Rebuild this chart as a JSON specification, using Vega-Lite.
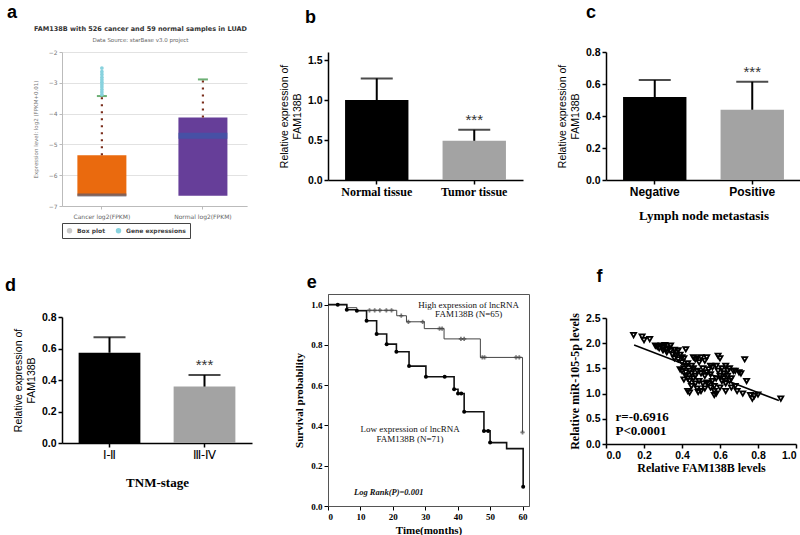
{
"$schema": "https://vega.github.io/schema/vega-lite/v6.json",
"padding": {"left": 5, "top": 3, "right": 0, "bottom": 0},
"background": "white",
"config": {
  "view": {"stroke": null},
  "axis": {"grid": false, "domainColor": "#000", "tickColor": "#000", "labelColor": "#000", "titleColor": "#000", "labelOverlap": false}
},
"datasets": {
  "boxA": [
    {"group": "Cancer log2(FPKM)", "lo": -6.67, "q3": -5.35, "med": -6.64, "whi": -3.43},
    {"group": "Normal log2(FPKM)", "lo": -6.67, "q3": -4.13, "med": -4.72, "whi": -2.89}
  ],
  "outA": [
    {"group": "Cancer log2(FPKM)", "value": -3.38, "kind": "Gene expressions"},
    {"group": "Cancer log2(FPKM)", "value": -3.3, "kind": "Gene expressions"},
    {"group": "Cancer log2(FPKM)", "value": -3.22, "kind": "Gene expressions"},
    {"group": "Cancer log2(FPKM)", "value": -3.14, "kind": "Gene expressions"},
    {"group": "Cancer log2(FPKM)", "value": -3.06, "kind": "Gene expressions"},
    {"group": "Cancer log2(FPKM)", "value": -2.98, "kind": "Gene expressions"},
    {"group": "Cancer log2(FPKM)", "value": -2.9, "kind": "Gene expressions"},
    {"group": "Cancer log2(FPKM)", "value": -2.82, "kind": "Gene expressions"},
    {"group": "Cancer log2(FPKM)", "value": -2.73, "kind": "Gene expressions"},
    {"group": "Cancer log2(FPKM)", "value": -2.64, "kind": "Gene expressions"},
    {"group": "Cancer log2(FPKM)", "value": -2.52, "kind": "Gene expressions"}
  ],
  "barsB": [
    {"cat": "Normal tissue", "mean": 1.0, "err": 1.27, "sig": ""},
    {"cat": "Tumor tissue", "mean": 0.49, "err": 0.627, "sig": "***"}
  ],
  "barsC": [
    {"cat": "Negative", "mean": 0.518, "err": 0.625, "sig": ""},
    {"cat": "Positive", "mean": 0.439, "err": 0.614, "sig": "***"}
  ],
  "barsD": [
    {"cat": "Ⅰ-Ⅱ", "mean": 0.573, "err": 0.672, "sig": ""},
    {"cat": "Ⅲ-Ⅳ", "mean": 0.358, "err": 0.432, "sig": "***"}
  ],
  "kmHigh": [
    {"t": 0, "s": 1.0}, {"t": 5.8, "s": 0.985}, {"t": 8.9, "s": 0.972}, {"t": 21.2, "s": 0.945},
    {"t": 24.2, "s": 0.915}, {"t": 29.7, "s": 0.881}, {"t": 35.8, "s": 0.83}, {"t": 47.0, "s": 0.738},
    {"t": 60.0, "s": 0.366}
  ],
  "kmHighMarks": [
    {"t": 12.8, "s": 0.972}, {"t": 14.4, "s": 0.972}, {"t": 16.0, "s": 0.972}, {"t": 18.0, "s": 0.972},
    {"t": 19.6, "s": 0.972}, {"t": 22.6, "s": 0.945}, {"t": 24.8, "s": 0.915}, {"t": 29.2, "s": 0.915},
    {"t": 34.4, "s": 0.881}, {"t": 35.2, "s": 0.881}, {"t": 41.0, "s": 0.83}, {"t": 42.0, "s": 0.83},
    {"t": 47.6, "s": 0.738}, {"t": 48.3, "s": 0.738}, {"t": 58.0, "s": 0.738}, {"t": 59.0, "s": 0.738},
    {"t": 60.0, "s": 0.366}
  ],
  "kmLow": [
    {"t": 0, "s": 1.0}, {"t": 5.8, "s": 0.975}, {"t": 8.9, "s": 0.97}, {"t": 11.9, "s": 0.92},
    {"t": 15.0, "s": 0.854}, {"t": 18.1, "s": 0.804}, {"t": 21.1, "s": 0.766}, {"t": 25.0, "s": 0.695},
    {"t": 30.2, "s": 0.642}, {"t": 38.9, "s": 0.58}, {"t": 40.1, "s": 0.559}, {"t": 42.0, "s": 0.468},
    {"t": 48.1, "s": 0.373}, {"t": 50.0, "s": 0.315}, {"t": 55.1, "s": 0.285}, {"t": 60.2, "s": 0.095}
  ],
  "kmLowMarks": [
    {"t": 3.0, "s": 1.0}, {"t": 5.8, "s": 0.975}, {"t": 8.9, "s": 0.97}, {"t": 11.9, "s": 0.92},
    {"t": 15.0, "s": 0.854}, {"t": 18.1, "s": 0.804}, {"t": 21.1, "s": 0.766}, {"t": 25.0, "s": 0.695},
    {"t": 30.2, "s": 0.642}, {"t": 36.0, "s": 0.642}, {"t": 38.9, "s": 0.58}, {"t": 40.1, "s": 0.559},
    {"t": 41.1, "s": 0.559}, {"t": 42.0, "s": 0.468}, {"t": 48.1, "s": 0.373}, {"t": 49.4, "s": 0.373},
    {"t": 50.0, "s": 0.315}, {"t": 60.2, "s": 0.095}
  ],
  "scatterF": [
    {"x": 0.145, "y": 2.16}, {"x": 0.19, "y": 2.13}, {"x": 0.2, "y": 2.06}, {"x": 0.23, "y": 2.08},
    {"x": 0.26, "y": 1.95}, {"x": 0.27, "y": 1.93}, {"x": 0.28, "y": 1.9}, {"x": 0.29, "y": 1.95},
    {"x": 0.3, "y": 1.92}, {"x": 0.3, "y": 1.86}, {"x": 0.31, "y": 1.96}, {"x": 0.32, "y": 1.88},
    {"x": 0.32, "y": 1.82}, {"x": 0.33, "y": 1.9}, {"x": 0.34, "y": 1.95}, {"x": 0.34, "y": 1.85},
    {"x": 0.35, "y": 1.78}, {"x": 0.36, "y": 1.87}, {"x": 0.36, "y": 1.7}, {"x": 0.37, "y": 1.82},
    {"x": 0.37, "y": 1.75}, {"x": 0.38, "y": 1.86}, {"x": 0.38, "y": 1.68}, {"x": 0.39, "y": 1.77},
    {"x": 0.4, "y": 1.72}, {"x": 0.4, "y": 1.62}, {"x": 0.41, "y": 1.7}, {"x": 0.42, "y": 1.88},
    {"x": 0.4, "y": 1.45}, {"x": 0.41, "y": 1.5}, {"x": 0.42, "y": 1.55}, {"x": 0.42, "y": 1.35},
    {"x": 0.43, "y": 1.6}, {"x": 0.43, "y": 1.3}, {"x": 0.43, "y": 1.05}, {"x": 0.44, "y": 1.02},
    {"x": 0.44, "y": 1.45}, {"x": 0.44, "y": 1.25}, {"x": 0.45, "y": 1.55}, {"x": 0.45, "y": 1.4},
    {"x": 0.45, "y": 1.15}, {"x": 0.46, "y": 1.72}, {"x": 0.46, "y": 1.5}, {"x": 0.46, "y": 1.3},
    {"x": 0.47, "y": 1.68}, {"x": 0.47, "y": 1.35}, {"x": 0.47, "y": 1.2}, {"x": 0.48, "y": 1.7},
    {"x": 0.48, "y": 1.45}, {"x": 0.48, "y": 1.1}, {"x": 0.49, "y": 1.62}, {"x": 0.49, "y": 1.25},
    {"x": 0.5, "y": 1.72}, {"x": 0.5, "y": 1.4}, {"x": 0.5, "y": 1.05}, {"x": 0.51, "y": 1.5},
    {"x": 0.51, "y": 1.2}, {"x": 0.52, "y": 1.65}, {"x": 0.52, "y": 1.35}, {"x": 0.53, "y": 1.42},
    {"x": 0.53, "y": 1.22}, {"x": 0.54, "y": 1.48}, {"x": 0.54, "y": 1.2}, {"x": 0.55, "y": 1.38},
    {"x": 0.55, "y": 1.55}, {"x": 0.56, "y": 1.25}, {"x": 0.56, "y": 1.52}, {"x": 0.57, "y": 1.15},
    {"x": 0.57, "y": 1.05}, {"x": 0.57, "y": 0.97}, {"x": 0.58, "y": 1.55}, {"x": 0.58, "y": 1.3},
    {"x": 0.59, "y": 1.45}, {"x": 0.59, "y": 1.75}, {"x": 0.6, "y": 1.7}, {"x": 0.6, "y": 1.35},
    {"x": 0.6, "y": 1.12}, {"x": 0.61, "y": 1.5}, {"x": 0.61, "y": 1.25}, {"x": 0.62, "y": 1.4},
    {"x": 0.62, "y": 1.3}, {"x": 0.63, "y": 1.55}, {"x": 0.63, "y": 1.2}, {"x": 0.63, "y": 1.05},
    {"x": 0.64, "y": 1.45}, {"x": 0.64, "y": 1.35}, {"x": 0.65, "y": 1.5}, {"x": 0.65, "y": 1.25},
    {"x": 0.66, "y": 1.3}, {"x": 0.66, "y": 1.12}, {"x": 0.67, "y": 1.45}, {"x": 0.68, "y": 1.15},
    {"x": 0.68, "y": 1.45}, {"x": 0.69, "y": 1.05}, {"x": 0.7, "y": 1.42}, {"x": 0.71, "y": 1.4},
    {"x": 0.72, "y": 1.0}, {"x": 0.73, "y": 1.68}, {"x": 0.74, "y": 1.25}, {"x": 0.76, "y": 0.97},
    {"x": 0.77, "y": 0.9}, {"x": 0.78, "y": 0.95}, {"x": 0.8, "y": 0.98}, {"x": 0.92, "y": 0.9},
    {"x": 0.39, "y": 1.48}, {"x": 0.41, "y": 1.28}, {"x": 0.42, "y": 1.42}, {"x": 0.53, "y": 1.72},
    {"x": 0.55, "y": 1.12}, {"x": 0.52, "y": 1.1}, {"x": 0.58, "y": 1.0}, {"x": 0.485, "y": 1.03}
  ],
  "lineF": [{"x": 0.148, "y": 1.963}, {"x": 0.91, "y": 0.862}]
},
"hconcat": [
 {"vconcat": [
  {
   "title": {"text": "a", "anchor": "start", "frame": "group", "font": "Liberation Sans", "fontSize": 18, "fontWeight": "bold", "dx": -55, "offset": 4},
   "width": 185, "height": 154,
   "resolve": {"scale": {"color": "independent"}},
   "layer": [
    {"data": {"name": "boxA"}, "mark": {"type": "bar"},
     "encoding": {
      "x": {"field": "group", "type": "nominal", "scale": {"paddingInner": 0.515, "paddingOuter": 0.173, "align": 0.44},
            "axis": {"title": null, "labelAngle": 0, "labelFont": "DejaVu Sans", "labelFontSize": 6, "labelColor": "#666", "domainColor": "#bbb", "tickColor": "#bbb", "tickSize": 3, "labelPadding": 4}},
      "y": {"field": "lo", "type": "quantitative", "scale": {"domain": [-7, -2], "nice": false, "zero": false},
            "axis": {"title": "Expression level: log2 (FPKM+0.01)", "titleFont": "DejaVu Sans", "titleFontSize": 5.5, "titleFontWeight": "normal", "titleColor": "#777", "values": [-7, -6, -5, -4, -3, -2], "tickCount": 20, "format": "d", "grid": true, "gridColor": "#e2e2e2", "labelFont": "DejaVu Sans", "labelFontSize": 6, "labelColor": "#777", "domainColor": "#bbb", "tickColor": "#bbb", "tickSize": 3, "titlePadding": 10}},
      "y2": {"field": "q3"},
      "color": {"field": "group", "type": "nominal", "scale": {"range": ["#ea6a0e", "#663e99"]}, "legend": null}
     }},
    {"data": {"name": "boxA"}, "transform": [{"filter": "datum.group == 'Cancer log2(FPKM)'"}],
     "mark": {"type": "tick", "color": "#5a5d72", "thickness": 3, "size": 49},
     "encoding": {"x": {"field": "group", "type": "nominal"}, "y": {"field": "med", "type": "quantitative"}}},
    {"data": {"name": "boxA"}, "transform": [{"filter": "datum.group == 'Normal log2(FPKM)'"}],
     "mark": {"type": "tick", "color": "#3b58aa", "thickness": 6, "size": 49},
     "encoding": {"x": {"field": "group", "type": "nominal"}, "y": {"field": "med", "type": "quantitative"}}},
    {"data": {"name": "boxA"},
     "mark": {"type": "rule", "color": "#7a2e1c", "strokeWidth": 2.2, "strokeDash": [2, 5]},
     "encoding": {"x": {"field": "group", "type": "nominal"}, "y": {"field": "q3", "type": "quantitative"}, "y2": {"field": "whi"}}},
    {"data": {"name": "boxA"},
     "mark": {"type": "tick", "color": "#2f8f3a", "thickness": 2, "size": 10},
     "encoding": {"x": {"field": "group", "type": "nominal"}, "y": {"field": "whi", "type": "quantitative"}}},
    {"data": {"name": "outA"},
     "mark": {"type": "point", "filled": true, "size": 14, "opacity": 1},
     "encoding": {
      "x": {"field": "group", "type": "nominal"},
      "y": {"field": "value", "type": "quantitative"},
      "color": {"field": "kind", "type": "nominal", "scale": {"domain": ["Box plot", "Gene expressions"], "range": ["#c9c9c9", "#88d2de"]},
        "legend": {"orient": "bottom", "direction": "horizontal", "title": null, "strokeColor": "#444", "padding": 4, "labelFont": "DejaVu Sans", "labelFontSize": 6, "labelFontWeight": "bold", "labelColor": "#444", "symbolSize": 30, "columnPadding": 10, "offset": 4}},
      "shape": {"field": "kind", "type": "nominal", "scale": {"domain": ["Box plot", "Gene expressions"], "range": ["square", "circle"]}}
     }},
    {"data": {"values": [{"k": 1}]},
     "mark": {"type": "text", "font": "DejaVu Sans", "fontSize": 6.5, "fontWeight": "bold", "color": "#333", "dx": -14},
     "encoding": {"y": {"datum": -1.25}, "text": {"value": "FAM138B with 526 cancer and 59 normal samples in LUAD"}}},
    {"data": {"values": [{"k": 1}]},
     "mark": {"type": "text", "font": "DejaVu Sans", "fontSize": 5.5, "color": "#666", "dx": -14},
     "encoding": {"y": {"datum": -1.62}, "text": {"value": "Data Source: starBase v3.0 project"}}}
   ]
  },
  {
   "title": {"text": "d", "anchor": "start", "frame": "group", "font": "Liberation Sans", "fontSize": 18, "fontWeight": "bold", "dx": -57, "offset": 17},
   "width": 190, "height": 126,
   "data": {"name": "barsD"},
   "encoding": {"x": {"field": "cat", "type": "nominal", "sort": null, "scale": {"paddingInner": 0.35, "paddingOuter": 0.175},
      "axis": {"title": "TNM-stage", "titleFont": "Liberation Serif", "titleFontSize": 13, "titleFontWeight": "bold", "titlePadding": 16, "labelAngle": 0, "labelFont": "Liberation Serif", "labelFontWeight": "normal", "labelFontSize": 12, "domainWidth": 1.5, "tickWidth": 1.5, "tickSize": 4}}},
   "layer": [
    {"mark": {"type": "bar"},
     "encoding": {"y": {"field": "mean", "type": "quantitative", "scale": {"domain": [0, 0.8]},
        "axis": {"title": ["Relative expression of", "FAM138B"], "titleFont": "Liberation Sans", "titleFontSize": 10.5, "titleFontWeight": "normal", "values": [0, 0.2, 0.4, 0.6, 0.8], "tickCount": 20, "format": ".1f", "labelFont": "Liberation Sans", "labelFontWeight": "bold", "labelFontSize": 10.5, "domainWidth": 1.5, "tickWidth": 1.5, "tickSize": 4, "titlePadding": 5}},
      "color": {"field": "cat", "type": "nominal", "sort": null, "scale": {"range": ["#000000", "#a3a3a3"]}, "legend": null}}},
    {"mark": {"type": "rule", "color": "#000", "strokeWidth": 2}, "encoding": {"y": {"field": "mean", "type": "quantitative"}, "y2": {"field": "err"}}},
    {"mark": {"type": "tick", "color": "#000", "thickness": 2, "size": 32}, "encoding": {"y": {"field": "err", "type": "quantitative"}}},
    {"mark": {"type": "text", "dy": -10, "fontSize": 15, "font": "Liberation Sans", "color": "#333"}, "encoding": {"y": {"field": "err", "type": "quantitative"}, "text": {"field": "sig"}}}
   ]
  }
 ], "spacing": 38},
 {"vconcat": [
  {
   "title": {"text": "b", "anchor": "start", "font": "Liberation Sans", "fontSize": 18, "fontWeight": "bold", "dx": 25, "offset": 25},
   "width": 195, "height": 128,
   "data": {"name": "barsB"},
   "encoding": {"x": {"field": "cat", "type": "nominal", "sort": null, "scale": {"paddingInner": 0.35, "paddingOuter": 0.175},
      "axis": {"title": null, "labelAngle": 0, "labelFont": "Liberation Serif", "labelFontWeight": "bold", "labelFontSize": 12, "domainWidth": 1.5, "tickWidth": 1.5, "tickSize": 4}}},
   "layer": [
    {"mark": {"type": "bar"},
     "encoding": {"y": {"field": "mean", "type": "quantitative", "scale": {"domain": [0, 1.5]},
        "axis": {"title": ["Relative expression of", "FAM138B"], "titleFont": "Liberation Sans", "titleFontSize": 10.5, "titleFontWeight": "normal", "values": [0, 0.5, 1, 1.5], "tickCount": 20, "format": ".1f", "labelFont": "Liberation Sans", "labelFontWeight": "bold", "labelFontSize": 10.5, "domainWidth": 1.5, "tickWidth": 1.5, "tickSize": 4, "titlePadding": 5}},
      "color": {"field": "cat", "type": "nominal", "sort": null, "scale": {"range": ["#000000", "#a3a3a3"]}, "legend": null}}},
    {"mark": {"type": "rule", "color": "#000", "strokeWidth": 2}, "encoding": {"y": {"field": "mean", "type": "quantitative"}, "y2": {"field": "err"}}},
    {"mark": {"type": "tick", "color": "#000", "thickness": 2, "size": 32}, "encoding": {"y": {"field": "err", "type": "quantitative"}}},
    {"mark": {"type": "text", "dy": -10, "fontSize": 15, "font": "Liberation Sans", "color": "#333"}, "encoding": {"y": {"field": "err", "type": "quantitative"}, "text": {"field": "sig"}}}
   ]
  },
  {
   "title": {"text": "e", "anchor": "start", "font": "Liberation Sans", "fontSize": 18, "fontWeight": "bold", "dx": 13, "offset": 2},
   "width": 201, "height": 212,
   "view": {"stroke": "#555", "strokeWidth": 1},
   "layer": [
    {"data": {"name": "kmHigh"}, "mark": {"type": "line", "interpolate": "step-after", "color": "#444", "strokeWidth": 1},
     "encoding": {
      "x": {"field": "t", "type": "quantitative", "scale": {"domain": [0, 62], "nice": false},
        "axis": {"title": "Time(months)", "titleFont": "Liberation Serif", "titleFontSize": 11, "titleFontWeight": "bold", "values": [0, 10, 20, 30, 40, 50, 60], "tickCount": 20, "labelFont": "Liberation Serif", "labelFontWeight": "bold", "labelFontSize": 9, "tickSize": 4, "domainColor": "#555", "titlePadding": 3}},
      "y": {"field": "s", "type": "quantitative", "scale": {"domain": [0, 1.053], "nice": false},
        "axis": {"title": "Survival probability", "titleFont": "Liberation Serif", "titleFontSize": 11, "titleFontWeight": "bold", "values": [0, 0.2, 0.4, 0.6, 0.8, 1.0], "tickCount": 20, "format": ".1f", "labelFont": "Liberation Serif", "labelFontWeight": "bold", "labelFontSize": 9, "tickSize": 4, "domainColor": "#555", "titlePadding": 6}}
     }},
    {"data": {"name": "kmLow"}, "mark": {"type": "line", "interpolate": "step-after", "color": "#111", "strokeWidth": 1.6},
     "encoding": {"x": {"field": "t", "type": "quantitative"}, "y": {"field": "s", "type": "quantitative"}}},
    {"data": {"name": "kmHighMarks"}, "mark": {"type": "point", "shape": "cross", "filled": true, "color": "#444", "size": 18},
     "encoding": {"x": {"field": "t", "type": "quantitative"}, "y": {"field": "s", "type": "quantitative"}}},
    {"data": {"name": "kmLowMarks"}, "mark": {"type": "point", "shape": "circle", "filled": true, "color": "#000", "size": 16, "opacity": 1},
     "encoding": {"x": {"field": "t", "type": "quantitative"}, "y": {"field": "s", "type": "quantitative"}}},
    {"data": {"values": [{"k": 1}]}, "mark": {"type": "text", "font": "Liberation Serif", "fontSize": 9, "color": "#111"},
     "encoding": {"x": {"datum": 43.4}, "y": {"datum": 0.998}, "text": {"value": "High expression of lncRNA"}}},
    {"data": {"values": [{"k": 1}]}, "mark": {"type": "text", "font": "Liberation Serif", "fontSize": 9, "color": "#111"},
     "encoding": {"x": {"datum": 43.4}, "y": {"datum": 0.952}, "text": {"value": "FAM138B (N=65)"}}},
    {"data": {"values": [{"k": 1}]}, "mark": {"type": "text", "font": "Liberation Serif", "fontSize": 9, "color": "#111"},
     "encoding": {"x": {"datum": 25.3}, "y": {"datum": 0.381}, "text": {"value": "Low expression of lncRNA"}}},
    {"data": {"values": [{"k": 1}]}, "mark": {"type": "text", "font": "Liberation Serif", "fontSize": 9, "color": "#111"},
     "encoding": {"x": {"datum": 25.3}, "y": {"datum": 0.335}, "text": {"value": "FAM138B (N=71)"}}},
    {"data": {"values": [{"k": 1}]}, "mark": {"type": "text", "font": "Liberation Serif", "fontSize": 8.5, "fontWeight": "bold", "fontStyle": "italic", "align": "left", "color": "#111"},
     "encoding": {"x": {"datum": 8}, "y": {"datum": 0.07}, "text": {"value": "Log Rank(P)=0.001"}}}
   ]
  }
 ], "spacing": 76},
 {"vconcat": [
  {
   "title": {"text": "c", "anchor": "start", "font": "Liberation Sans", "fontSize": 18, "fontWeight": "bold", "dx": 28, "offset": 25},
   "width": 195, "height": 128,
   "data": {"name": "barsC"},
   "encoding": {"x": {"field": "cat", "type": "nominal", "sort": null, "scale": {"paddingInner": 0.35, "paddingOuter": 0.175},
      "axis": {"title": "Lymph node metastasis", "titleFont": "Liberation Serif", "titleFontSize": 13, "titleFontWeight": "bold", "titlePadding": 12, "labelAngle": 0, "labelFont": "Liberation Sans", "labelFontWeight": "bold", "labelFontSize": 12, "domainWidth": 1.5, "tickWidth": 1.5, "tickSize": 4}}},
   "layer": [
    {"mark": {"type": "bar"},
     "encoding": {"y": {"field": "mean", "type": "quantitative", "scale": {"domain": [0, 0.8]},
        "axis": {"title": ["Relative expression of", "FAM138B"], "titleFont": "Liberation Sans", "titleFontSize": 10.5, "titleFontWeight": "normal", "values": [0, 0.2, 0.4, 0.6, 0.8], "tickCount": 20, "format": ".1f", "labelFont": "Liberation Sans", "labelFontWeight": "bold", "labelFontSize": 10.5, "domainWidth": 1.5, "tickWidth": 1.5, "tickSize": 4, "titlePadding": 5}},
      "color": {"field": "cat", "type": "nominal", "sort": null, "scale": {"range": ["#000000", "#a3a3a3"]}, "legend": null}}},
    {"mark": {"type": "rule", "color": "#000", "strokeWidth": 2}, "encoding": {"y": {"field": "mean", "type": "quantitative"}, "y2": {"field": "err"}}},
    {"mark": {"type": "tick", "color": "#000", "thickness": 2, "size": 32}, "encoding": {"y": {"field": "err", "type": "quantitative"}}},
    {"mark": {"type": "text", "dy": -10, "fontSize": 15, "font": "Liberation Sans", "color": "#333"}, "encoding": {"y": {"field": "err", "type": "quantitative"}, "text": {"field": "sig"}}}
   ]
  },
  {
   "title": {"text": "f", "anchor": "start", "font": "Liberation Sans", "fontSize": 18, "fontWeight": "bold", "dx": 28, "offset": 27},
   "width": 190, "height": 126,
   "layer": [
    {"data": {"name": "scatterF"}, "mark": {"type": "point", "shape": "triangle-down", "filled": false, "color": "#000", "strokeWidth": 1.8, "size": 26, "opacity": 1},
     "encoding": {
      "x": {"field": "x", "type": "quantitative", "scale": {"domain": [0, 1], "nice": false},
        "axis": {"title": "Relative FAM138B levels", "titleFont": "Liberation Serif", "titleFontSize": 12, "titleFontWeight": "bold", "values": [0, 0.2, 0.4, 0.6, 0.8, 1.0], "tickCount": 20, "format": ".1f", "labelFont": "Liberation Sans", "labelFontWeight": "bold", "labelFontSize": 10.5, "domainWidth": 1.5, "tickWidth": 1.5, "tickSize": 4, "titlePadding": 2}},
      "y": {"field": "y", "type": "quantitative", "scale": {"domain": [0, 2.5], "nice": false},
        "axis": {"title": "Relative miR-105-5p levels", "titleFont": "Liberation Serif", "titleFontSize": 12, "titleFontWeight": "bold", "values": [0, 0.5, 1, 1.5, 2, 2.5], "tickCount": 20, "format": ".1f", "labelFont": "Liberation Sans", "labelFontWeight": "bold", "labelFontSize": 10.5, "domainWidth": 1.5, "tickWidth": 1.5, "tickSize": 4, "titlePadding": 4}}
     }},
    {"data": {"name": "lineF"}, "mark": {"type": "line", "color": "#000", "strokeWidth": 1.5},
     "encoding": {"x": {"field": "x", "type": "quantitative"}, "y": {"field": "y", "type": "quantitative"}}},
    {"data": {"values": [{"k": 1}]}, "mark": {"type": "text", "font": "Liberation Serif", "fontSize": 13, "fontWeight": "bold", "align": "left", "color": "#000"},
     "encoding": {"x": {"datum": 0.05}, "y": {"datum": 0.53}, "text": {"value": "r=-0.6916"}}},
    {"data": {"values": [{"k": 1}]}, "mark": {"type": "text", "font": "Liberation Serif", "fontSize": 13, "fontWeight": "bold", "align": "left", "color": "#000"},
     "encoding": {"x": {"datum": 0.05}, "y": {"datum": 0.25}, "text": {"value": "P<0.0001"}}}
   ]
  }
 ], "spacing": 45}
], "spacing": 27
}
